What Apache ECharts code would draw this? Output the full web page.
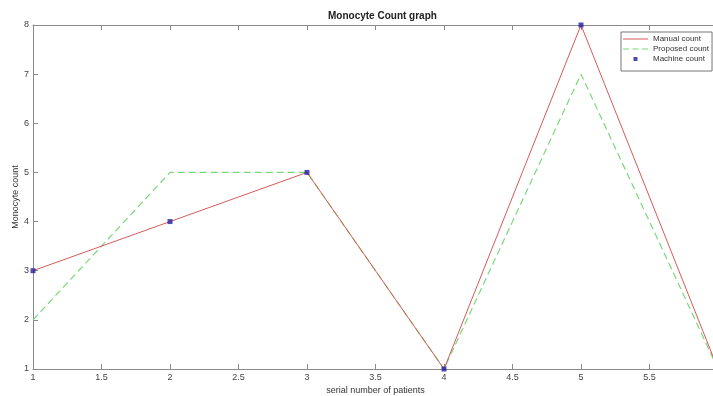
<!DOCTYPE html>
<html>
<head>
<meta charset="utf-8">
<script src="https://cdn.jsdelivr.net/npm/echarts@6/dist/echarts.min.js"></script>
<style>
  html, body { margin: 0; padding: 0; background: #fff; }
  #chart { width: 713px; height: 396px; }
</style>
</head>
<body>
<div id="chart"></div>
<script>
// patients 1..6 (plot is cut at the right edge, near x = 6)
var patients = [1, 2, 3, 4, 5, 6];
var manualCount = [3, 4, 5, 1, 8, 1];
var proposedCount = [2, 5, 5, 1, 7, 1];
var machineCount = [3, 4, 5, 1, 8, 1];

function pairs(xs, ys) {
  var out = [];
  for (var i = 0; i < xs.length; i++) out.push([xs[i], ys[i]]);
  return out;
}

var axisColor = '#8a8a8a';
var labelStyle = { color: '#444', fontSize: 9, fontFamily: 'Liberation Sans, Arial' };
var redColor = '#d85a5a';
var greenColor = '#7ad87a';
var blueColor = '#1f1fa0';

// legend icons, 25x8 boxes (tiny corner specks keep the box size)
var box = ' M0,0h0.05v0.05h-0.05z M24.95,7.95h0.05v0.05h-0.05z';
var solidIcon = 'path://M0,3.5h25v1h-25z' + box;
var dashIcon = 'path://M0,3.4h6v1.2h-6z M9.5,3.4h6v1.2h-6z M19,3.4h6v1.2h-6z' + box;
var markIcon = 'path://M10.5,2h4v4h-4z' + box;

var myChart = echarts.init(document.getElementById('chart'));

var option = {
  backgroundColor: '#fff',
  animation: false,
  title: {
    text: 'Monocyte Count graph',
    left: 323,
    top: 6,
    textStyle: { fontSize: 10, fontWeight: 'bold', color: '#222', fontFamily: 'Liberation Sans, Arial' }
  },
  legend: {
    orient: 'vertical',
    left: 621,
    top: 32,
    padding: [3, 3, 8, 2],
    itemGap: 2,
    itemWidth: 25,
    itemHeight: 8,
    borderColor: '#777',
    borderWidth: 1,
    backgroundColor: '#fff',
    textStyle: { fontSize: 8, color: '#333', fontFamily: 'Liberation Sans, Arial' },
    data: [
      { name: 'Manual count', icon: solidIcon, itemStyle: { color: redColor } },
      { name: 'Proposed count', icon: dashIcon, itemStyle: { color: greenColor } },
      { name: 'Machine count', icon: markIcon, itemStyle: { color: blueColor } }
    ]
  },
  grid: { left: 33, right: -5, top: 25, bottom: 27, containLabel: false, outerBoundsMode: 'none' },
  xAxis: [
    {
      type: 'value', min: 1, max: 6, interval: 0.5,
      name: 'serial number of patients', nameLocation: 'middle', nameGap: 17,
      nameMoveOverlap: false,
      nameTextStyle: { fontSize: 9, color: '#333', fontFamily: 'Liberation Sans, Arial' },
      axisLine: { show: true, lineStyle: { color: axisColor } },
      axisTick: { show: true, inside: true, length: 5, lineStyle: { color: axisColor } },
      axisLabel: Object.assign({ margin: 4, showMaxLabel: false }, labelStyle),
      splitLine: { show: false }
    },
    {
      type: 'value', min: 1, max: 6, interval: 0.5, position: 'top',
      axisLine: { show: true, lineStyle: { color: axisColor } },
      axisTick: { show: true, inside: true, length: 5, lineStyle: { color: axisColor } },
      axisLabel: { show: false },
      splitLine: { show: false }
    }
  ],
  yAxis: {
    type: 'value', min: 1, max: 8, interval: 1,
    name: 'Monocyte count', nameLocation: 'middle', nameGap: 13,
    nameMoveOverlap: false,
    nameTextStyle: { fontSize: 9, color: '#333', fontFamily: 'Liberation Sans, Arial' },
    axisLine: { show: true, lineStyle: { color: axisColor } },
    axisTick: { show: true, inside: true, length: 5, lineStyle: { color: axisColor } },
    axisLabel: Object.assign({ margin: 4 }, labelStyle),
    splitLine: { show: false }
  },
  series: [
    {
      name: 'Manual count',
      type: 'line',
      symbol: 'none',
      data: pairs(patients, manualCount),
      itemStyle: { color: redColor },
      lineStyle: { color: redColor, width: 1 },
      z: 3
    },
    {
      name: 'Proposed count',
      type: 'line',
      symbol: 'none',
      data: pairs(patients, proposedCount),
      itemStyle: { color: greenColor },
      lineStyle: { color: greenColor, width: 1.2, type: [7, 4] },
      z: 2
    },
    {
      name: 'Machine count',
      type: 'scatter',
      symbol: 'rect',
      symbolSize: 5,
      data: pairs(patients, machineCount),
      itemStyle: { color: blueColor },
      z: 4
    }
  ]
};

myChart.setOption(option);
</script>
</body>
</html>
